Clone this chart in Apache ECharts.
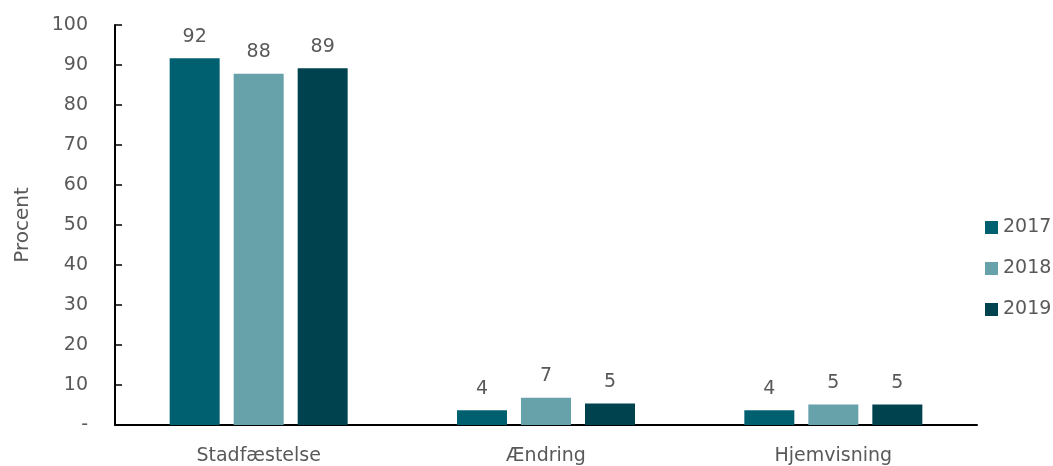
<!DOCTYPE html>
<html>
<head>
<meta charset="utf-8">
<script src="https://cdn.jsdelivr.net/npm/echarts@6/dist/echarts.min.js"></script>
<style>html,body{margin:0;padding:0;background:#fff}#c{width:1053px;height:466px}</style>
</head>
<body>
<div id="c"></div>
<script>
const categories = ['Stadfæstelse', 'Ændring', 'Hjemvisning'];
const seriesNames = ['2017', '2018', '2019'];
const values2017 = [91.7, 3.7, 3.7];
const values2018 = [87.8, 6.8, 5.1];
const values2019 = [89.2, 5.4, 5.1];
const yTicks = [0, 10, 20, 30, 40, 50, 60, 70, 80, 90, 100];
const colors = ['#01606f', '#67a1aa', '#00424d'];

const font = 'DejaVu Sans';
const gray = '#595959';
const data = [values2017, values2018, values2019];

const chart = echarts.init(document.getElementById('c'));
chart.setOption({
  animation: false,
  textStyle: { fontFamily: font },
  grid: { left: 115, right: 76, top: 25, bottom: 40, containLabel: false },
  legend: {
    orient: 'vertical', left: 980, top: 213,
    itemWidth: 13, itemHeight: 13, itemGap: 22, icon: 'rect',
    textStyle: { fontFamily: font, fontSize: 19, color: gray, padding: [0, 0, 0, 0] },
    data: seriesNames
  },
  xAxis: {
    type: 'category', data: categories,
    axisLine: { lineStyle: { color: '#000', width: 2 } },
    axisTick: { show: false },
    axisLabel: { fontFamily: font, fontSize: 19, color: gray, margin: 22 }
  },
  yAxis: {
    type: 'value', min: yTicks[0], max: yTicks[yTicks.length - 1], interval: 10,
    name: 'Procent', nameLocation: 'middle', nameGap: 82, nameRotate: 90,
    nameTextStyle: { fontFamily: font, fontSize: 20, color: gray },
    splitLine: { show: false },
    axisLine: { show: true, lineStyle: { color: '#000', width: 2 } },
    axisTick: { show: true, inside: true, length: 7, lineStyle: { color: '#000', width: 1.5 } },
    axisLabel: {
      fontFamily: font, fontSize: 19, color: gray, margin: 27,
      formatter: v => v === 0 ? '-' : String(v)
    }
  },
  series: seriesNames.map((n, i) => ({
    name: n, type: 'bar', data: data[i],
    barWidth: 50, barGap: '28%',
    itemStyle: { color: colors[i] },
    label: {
      show: true, position: 'top', distance: 12,
      fontFamily: font, fontSize: 19, color: gray,
      formatter: p => Math.round(p.value)
    }
  }))
});
</script>
</body>
</html>
